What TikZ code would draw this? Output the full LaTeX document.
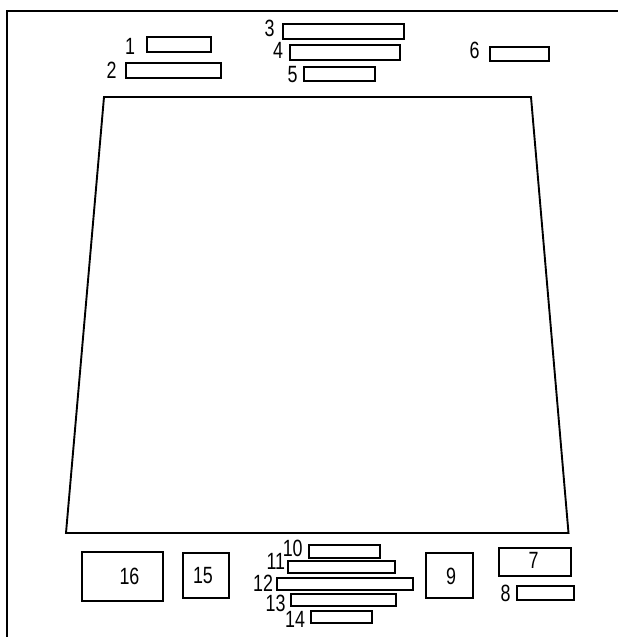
\documentclass[tikz,border=0pt]{standalone}
\usepackage{fontspec}
\setmainfont{Liberation Sans}
\newcommand{\dlab}[1]{\scalebox{0.76}[1]{\fontsize{23.5}{23.5}\selectfont #1}}
\tikzset{
  box/.style={draw=black, line width=1.9pt, inner sep=0pt, outer sep=0pt, fill=white},
  lab/.style={inner sep=0pt, outer sep=0pt, font=\fontsize{23.5}{23.5}\selectfont},
  frameline/.style={line width=2pt},
  trap/.style={line width=1.9pt, line join=miter}
}
\begin{document}
\begin{tikzpicture}[x=1pt,y=-1pt]
\useasboundingbox (0,0) rectangle (618,637);
\fill[white] (0,0) rectangle (618,637);
% frame
\coordinate (fbl) at (7,638);
\coordinate (ftl) at (7,11);
\coordinate (ftr) at (619,11);
\draw[frameline] (fbl) -- (ftl) -- (ftr);
% trapezoid
\coordinate (tl) at (104,97);
\coordinate (tr) at (531,97);
\coordinate (br) at (568.5,533);
\coordinate (bl) at (66,533);
\draw[trap] (tl) -- (tr) -- (br) -- (bl) -- cycle;
% top boxes
\node[box, minimum width=64pt, minimum height=15pt] (b1) at (179,44.2) {};
\node[box, minimum width=95pt, minimum height=14.4pt] (b2) at (173.3,70.5) {};
\node[box, minimum width=121.3pt, minimum height=15pt] (b3) at (343.3,31.5) {};
\node[box, minimum width=110pt, minimum height=15pt] (b4) at (345,52.5) {};
\node[box, minimum width=71pt, minimum height=14pt] (b5) at (339.8,73.7) {};
\node[box, minimum width=59.3pt, minimum height=14pt] (b6) at (519.7,53.7) {};
% bottom boxes
\node[box, minimum width=71.7pt, minimum height=27.7pt] (b7) at (535.2,561.8) {};
\node[box, minimum width=57.6pt, minimum height=14pt] (b8) at (545.5,593) {};
\node[box, minimum width=47.3pt, minimum height=44.4pt] (b9) at (449.7,575.5) {};
\node[box, minimum width=71pt, minimum height=12.7pt] (b10) at (344.5,551.3) {};
\node[box, minimum width=106.4pt, minimum height=12pt] (b11) at (341.5,566.7) {};
\node[box, minimum width=136pt, minimum height=12.3pt] (b12) at (345.3,583.8) {};
\node[box, minimum width=105.6pt, minimum height=11.4pt] (b13) at (343.5,600) {};
\node[box, minimum width=61.3pt, minimum height=12pt] (b14) at (341.7,616.7) {};
\node[box, minimum width=46.6pt, minimum height=44.4pt] (b15) at (206,575.5) {};
\node[box, minimum width=81.6pt, minimum height=49pt] (b16) at (122.5,576.8) {};
% labels
\node[lab] (l1) at (130,46) {\dlab{1}};
\node[lab] (l2) at (111.5,70.5) {\dlab{2}};
\node[lab] (l3) at (269.5,28) {\dlab{3}};
\node[lab] (l4) at (278,50) {\dlab{4}};
\node[lab] (l5) at (292.5,75) {\dlab{5}};
\node[lab] (l6) at (474.5,50.5) {\dlab{6}};
\node[lab] (l7) at (533.5,560) {\dlab{7}};
\node[lab] (l8) at (505.7,593) {\dlab{8}};
\node[lab] (l9) at (451,576) {\dlab{9}};
\node[lab] (l10) at (292.7,548) {\dlab{10}};
\node[lab] (l11) at (275.8,561.5) {\dlab{11}};
\node[lab] (l12) at (263,583) {\dlab{12}};
\node[lab] (l13) at (275.5,603) {\dlab{13}};
\node[lab] (l14) at (295,619.5) {\dlab{14}};
\node[lab] (l15) at (203,575.5) {\dlab{15}};
\node[lab] (l16) at (129.5,576.5) {\dlab{16}};
\end{tikzpicture}
\end{document}
